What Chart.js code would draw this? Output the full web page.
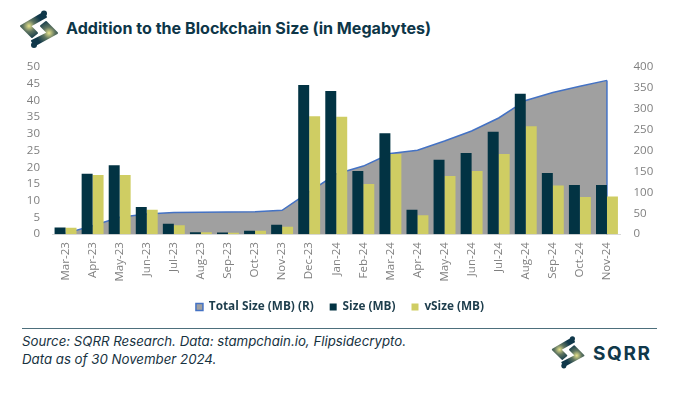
<!DOCTYPE html>
<html>
<head>
<meta charset="utf-8">
<script src="https://cdn.jsdelivr.net/npm/chart.js@4/dist/chart.umd.min.js"></script>
<style>
  html, body { margin: 0; padding: 0; background: #fff; }
  body { width: 680px; height: 395px; position: relative; overflow: hidden; font-family: Inter, sans-serif; }
  #chartBox { position: absolute; left: 0; top: 0; width: 680px; height: 332px; }
  #title { position: absolute; left: 66px; top: 18px; font: 700 16.1px Inter, sans-serif; color: #0d3648; white-space: nowrap; }
  #rule { position: absolute; left: 22px; top: 328px; width: 635px; height: 1px; background: #4d6f7c; }
  #source { position: absolute; left: 22px; top: 332px; font: italic 13.25px/18px Inter, sans-serif; color: #17323f; white-space: nowrap; }
  #brand { position: absolute; left: 593px; top: 342px; font: 700 19px Inter, sans-serif; letter-spacing: 1.6px; color: #10384a; }
  svg { position: absolute; }
</style>
</head>
<body>
<svg id="logoTop" style="left:19px;top:9px" width="42" height="42" viewBox="0 0 42 42">
  <defs>
    <radialGradient id="g1" gradientUnits="userSpaceOnUse" cx="10" cy="17" r="13"><stop offset="0" stop-color="#e6e28c"/><stop offset="0.45" stop-color="#5f7560"/><stop offset="1" stop-color="#10384a"/></radialGradient>
    <radialGradient id="g2" gradientUnits="userSpaceOnUse" cx="30" cy="24" r="13"><stop offset="0" stop-color="#e6e28c"/><stop offset="0.45" stop-color="#5f7560"/><stop offset="1" stop-color="#10384a"/></radialGradient>
  </defs>
  <path d="M24 4 L2 17 L13 28 L18 24 L11 17 L27 8 Z" fill="url(#g1)" stroke="url(#g1)" stroke-width="2" stroke-linejoin="round"/>
  <circle cx="25" cy="4.5" r="3" fill="#10384a"/>
  <path d="M16 36 L38 24 L27 13 L22 17 L29 24 L13 32 Z" fill="url(#g2)" stroke="url(#g2)" stroke-width="2" stroke-linejoin="round"/>
  <circle cx="15" cy="36" r="3" fill="#10384a"/>
</svg>
<div id="title">Addition to the Blockchain Size (in Megabytes)</div>
<div id="chartBox"><canvas id="chart"></canvas></div>
<div id="rule"></div>
<div id="source">Source: SQRR Research. Data: stampchain.io, Flipsidecrypto.<br>Data as of 30 November 2024.</div>
<svg id="logoBottom" style="left:551px;top:335px" width="36" height="36" viewBox="0 0 42 42">
  <path d="M24 4 L2 17 L13 28 L18 24 L11 17 L27 8 Z" fill="url(#g1)" stroke="url(#g1)" stroke-width="2" stroke-linejoin="round"/>
  <circle cx="25" cy="4.5" r="3" fill="#10384a"/>
  <path d="M16 36 L38 24 L27 13 L22 17 L29 24 L13 32 Z" fill="url(#g2)" stroke="url(#g2)" stroke-width="2" stroke-linejoin="round"/>
  <circle cx="15" cy="36" r="3" fill="#10384a"/>
</svg>
<div id="brand">SQRR</div>

<script>
const months = ["Mar-23","Apr-23","May-23","Jun-23","Jul-23","Aug-23","Sep-23","Oct-23","Nov-23","Dec-23","Jan-24","Feb-24","Mar-24","Apr-24","May-24","Jun-24","Jul-24","Aug-24","Sep-24","Oct-24","Nov-24"];
const totalSize = [2, 20, 40.5, 48.5, 52, 52.5, 53, 54, 57, 101, 144, 163, 193, 201, 223, 247, 278, 320, 339, 354, 368];
const sizeMB = [2, 18.1, 20.6, 8.1, 3.1, 0.6, 0.5, 1, 2.8, 44.6, 42.8, 18.9, 30.2, 7.3, 22.3, 24.3, 30.6, 42, 18.3, 14.7, 14.7];
const vSizeMB = [1.9, 17.7, 17.7, 7.3, 2.7, 0.6, 0.4, 1, 2.2, 35.3, 35.1, 15, 24, 5.7, 17.4, 18.9, 24, 32.3, 14.6, 11.1, 11.3];

const tickFont = { family: "'Open Sans'", size: 11.5 };

// closes the area on the right with the same blue line as the top edge
const rightEdge = {
  id: "rightEdge",
  afterDatasetDraw(chart, args) {
    if (args.index !== 0) return;
    const last = totalSize.length - 1;
    const x = chart.scales.x.getPixelForValue(last);
    const ctx = chart.ctx;
    ctx.save();
    ctx.strokeStyle = "#4472c4";
    ctx.lineWidth = 1.5;
    ctx.beginPath();
    ctx.moveTo(x, chart.scales.y2.getPixelForValue(totalSize[last]));
    ctx.lineTo(x, chart.scales.y2.getPixelForValue(0));
    ctx.stroke();
    ctx.restore();
  }
};

new Chart(document.getElementById("chart"), {
  type: "bar",
  plugins: [rightEdge],
  data: {
    labels: months,
    datasets: [
      {
        type: "line",
        label: "Total Size (MB) (R)",
        data: totalSize,
        yAxisID: "y2",
        order: 3,
        fill: "origin",
        backgroundColor: "#a0a0a0",
        borderColor: "#4472c4",
        borderWidth: 1.5,
        pointRadius: 0,
        tension: 0
      },
      {
        label: "Size (MB)",
        data: sizeMB,
        yAxisID: "y",
        order: 1,
        backgroundColor: "#023343",
        categoryPercentage: 0.81,
        barPercentage: 1
      },
      {
        label: "vSize (MB)",
        data: vSizeMB,
        yAxisID: "y",
        order: 2,
        backgroundColor: "#cfcd63",
        categoryPercentage: 0.81,
        barPercentage: 1
      }
    ]
  },
  options: {
    responsive: true,
    maintainAspectRatio: false,
    animation: false,
    layout: { padding: { top: 67, left: 0, right: 0, bottom: 9 } },
    plugins: {
      tooltip: { enabled: false },
      legend: {
        position: "bottom",
        labels: {
          boxWidth: 7,
          boxHeight: 7,
          padding: 16,
          color: "#1d3d4c",
          font: { family: "'Open Sans'", size: 11.8, weight: "700" },
          sort: (a, b) => a.datasetIndex - b.datasetIndex
        }
      }
    },
    scales: {
      x: {
        grid: { display: false, drawTicks: false },
        border: { color: "#d9d9d9" },
        ticks: { color: "#7f7f7f", font: tickFont, minRotation: 90, maxRotation: 90, padding: 8, autoSkip: false },
        afterFit(scale) { scale.height = 51; }
      },
      y: {
        position: "left",
        min: 0,
        max: 50,
        grid: { display: false, drawTicks: false },
        border: { display: false },
        ticks: { stepSize: 5, autoSkip: false, color: "#7f7f7f", font: tickFont, padding: 12 },
        afterFit(scale) { scale.width = 52; }
      },
      y2: {
        position: "right",
        min: 0,
        max: 400,
        grid: { display: false, drawTicks: false },
        border: { display: false },
        ticks: { stepSize: 50, autoSkip: false, color: "#7f7f7f", font: tickFont, padding: 13 },
        afterFit(scale) { scale.width = 59.5; }
      }
    }
  }
});
</script>
</body>
</html>
